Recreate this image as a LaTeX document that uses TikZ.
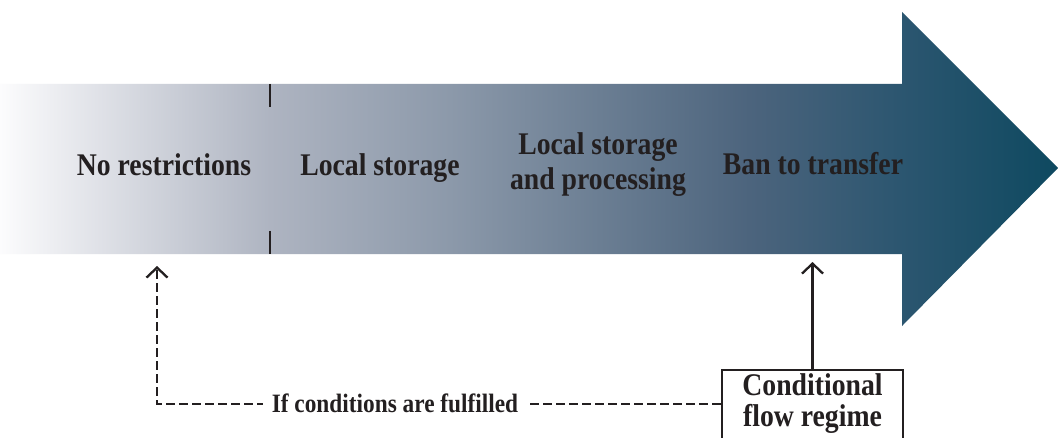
\documentclass[tikz,border=0pt]{standalone}
\usepackage{fontspec}
\newfontfamily\garfont[FakeStretch=0.88]{Liberation Serif}
\usetikzlibrary{arrows.meta}
\definecolor{txt}{HTML}{231F20}
\definecolor{ca}{RGB}{252,252,253}
\definecolor{cb}{RGB}{223,225,231}
\definecolor{cc}{RGB}{174,180,193}
\definecolor{cd}{RGB}{140,153,170}
\definecolor{ce}{RGB}{107,126,147}
\definecolor{cf}{RGB}{76,100,125}
\definecolor{cg}{RGB}{44,86,112}
\definecolor{ch}{RGB}{14,73,96}
\pgfdeclarehorizontalshading{arrowshade}{100bp}{color(0bp)=(ca); color(25bp)=(ca); color(29.72bp)=(cb); color(37.75bp)=(cc); color(46.25bp)=(cd); color(53.33bp)=(ce); color(60.41bp)=(cf); color(67.49bp)=(cg); color(75bp)=(ch); color(100bp)=(ch)}
\tikzset{
  lbl/.style={font=\garfont\bfseries\fontsize{31.5}{35}\selectfont, text=txt, inner sep=0pt, align=center},
  small/.style={font=\garfont\bfseries\fontsize{26.5}{30}\selectfont, text=txt, inner sep=0pt},
  conn/.style={line width=2.3pt, draw=txt},
  tip/.style={-{Straight Barb[length=10pt,width=21pt,line width=2.3pt]}}
}
\begin{document}
\begin{tikzpicture}[x=1pt,y=-1pt]
\useasboundingbox (0,0) rectangle (1059,438);
\clip (0,0) rectangle (1059,438);
\fill[white] (0,0) rectangle (1059,438);
% big arrow
\path[shading=arrowshade] (0,84) -- (902,84) -- (902,12) -- (1058,168) -- (902,326) -- (902,254) -- (0,254) -- cycle;
% ticks
\draw[conn] (270,84) -- (270,107);
\draw[conn] (270,231) -- (270,254);
% labels
\node[lbl, anchor=base] (nores) at (164,176) {No restrictions};
\node[lbl, anchor=base] (locst) at (380,176) {Local storage};
\node[lbl, align=center] (locpr) at (598,165) {Local storage\\and processing};
\node[lbl, anchor=base] (ban) at (813,175) {Ban to transfer};
% box
\node[lbl, draw=txt, line width=2.3pt, minimum width=181pt, anchor=north, font=\garfont\bfseries\fontsize{31.5}{31}\selectfont, inner ysep=3pt] (box) at (812.5,369) {Conditional\\flow regime\\[30pt]};
% connectors
\coordinate (solidtip) at (812.5,262);
\draw[conn, tip] (box.north) -- (solidtip);
\coordinate (corner) at (157,404);
\coordinate (dashtip) at (157,266);
\draw[conn, tip, dash pattern=on 9pt off 4pt] (box.west |- corner) -- (corner) -- (dashtip);
\node[small, anchor=base, fill=white, inner xsep=9pt, inner ysep=4pt] (cond) at (395,412) {If conditions are fulfilled};
\end{tikzpicture}
\end{document}
